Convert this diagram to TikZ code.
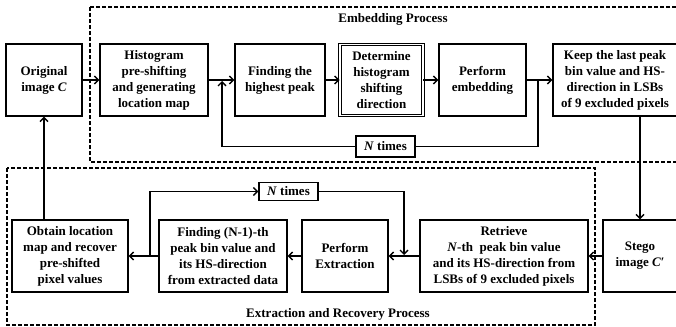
\documentclass[tikz,border=0pt]{standalone}
\usepackage{fontspec}
\setmainfont{Liberation Serif}
\usetikzlibrary{arrows.meta}
\begin{document}
\begin{tikzpicture}[x=1pt,y=-1pt,
  box/.style={draw, line width=1.3pt, align=center, inner sep=0pt, minimum height=72pt},
  dbox/.style={draw, line width=0.9pt, double, double distance=1.4pt, align=center, inner sep=0pt, minimum height=72pt},
  lbl/.style={draw, line width=1.3pt, inner sep=0pt, minimum width=59pt},
  conn/.style={line width=1.4pt, -{Straight Barb[length=4pt,width=8pt,line width=1.4pt]}},
  lin/.style={line width=1.4pt},
  frame/.style={line width=1.1pt, dash pattern=on 4pt off 2pt},
  font=\bfseries\fontsize{13}{16}\selectfont]
\useasboundingbox (0,0) rectangle (676,326);
% frames
\draw[frame] (90,7) rectangle (690,162);
\draw[frame] (7,168) rectangle (595,325);
\node (emb) at (393,19) {Embedding Process};
\node (ext) at (338,314) {Extraction and Recovery Process};
% top row
\node[box, minimum width=76pt] (orig) at (44,80) {Original\\image \textit{C}};
\node[box, minimum width=108pt] (hist) at (154,80) {Histogram\\pre-shifting\\and generating\\location map};
\node[box, minimum width=90pt] (find) at (280,80) {Finding the\\highest peak};
\node[dbox, minimum width=83pt, minimum height=71pt] (det) at (381.5,80) {Determine\\histogram\\shifting\\direction};
\node[box, minimum width=87pt] (perf) at (482.5,80) {Perform\\embedding};
\node[box, minimum width=124pt] (keep) at (615,80) {Keep the last peak\\bin value and HS-\\direction in LSBs\\of 9 excluded pixels};
\node[lbl, minimum height=21pt] (ntop) at (385.5,146.5) {\textit{N} times};
% bottom row
\node[box, minimum width=116pt] (obtain) at (70,256) {Obtain location\\map and recover\\pre-shifted\\pixel values};
\node[box, minimum width=128pt] (findn) at (223,256) {Finding (N-1)-th\\peak bin value and\\its HS-direction\\from extracted data};
\node[box, minimum width=86pt] (perfx) at (345,256) {Perform\\Extraction};
\node[box, minimum width=168pt] (retr) at (504,256) {Retrieve\\\textit{N}-th\ \ peak bin value\\and its HS-direction from\\LSBs of 9 excluded pixels};
\node[box, minimum width=74pt] (stego) at (640,256) {Stego\\image \textit{C}{\char"2032}};
\node[lbl, minimum height=18pt] (nbot) at (288.5,191.5) {\textit{N} times};
% top connectors
\draw[conn] (orig.east) -- (hist.west);
\draw[conn] (hist.east) -- (find.west);
\draw[conn] (find.east) -- (det.west);
\draw[conn] (det.east) -- (perf.west);
\draw[conn] (perf.east) -- (keep.west);
\coordinate (t1) at (538,80);
\coordinate (t2) at (222,81);
\draw[lin] (t1) |- (ntop.east);
\draw[conn] (ntop.west) -| (t2);
\draw[conn] (keep.south -| stego.north) -- (stego.north);
% bottom connectors
\draw[conn] (stego.west) -- (retr.east);
\draw[conn] (retr.west) -- (perfx.east);
\draw[conn] (perfx.west) -- (findn.east);
\draw[conn] (findn.west) -- (obtain.east);
\coordinate (b1) at (150,256);
\coordinate (b2) at (404,255);
\draw[conn] (b1) |- (nbot.west);
\draw[conn] (nbot.east) -| (b2);
\draw[conn] (obtain.north -| orig.south) -- (orig.south);
\end{tikzpicture}
\end{document}
